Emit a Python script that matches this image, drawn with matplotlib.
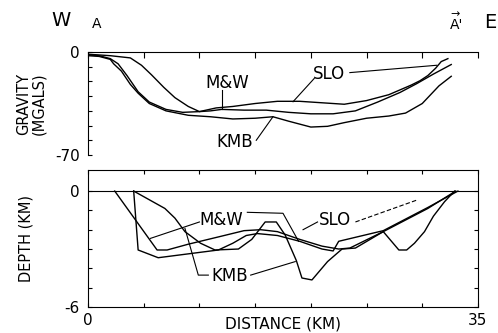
import matplotlib.pyplot as plt

plt.rcParams["font.family"] = ["DejaVu Sans"]

# gravity profiles, distance (km) vs anomaly (mGal)
slo_grav_x = [0, 1, 2, 2.7, 3.5, 4.5, 5.5, 7, 8.5, 10, 11.5, 13, 15, 17, 19, 21, 23, 25, 27, 29, 29.8, 30.5, 31.2, 31.7, 32.3]
slo_grav_y = [-2, -2.5, -4.5, -8, -16, -27, -34, -39, -41, -40.5, -38, -37, -35, -33.5, -33.5, -34.5, -35.5, -33, -29, -22.5, -19.5, -16, -11, -6.5, -4.5]

mw_grav_x = [0, 2, 3.8, 4.8, 5.7, 6.8, 7.8, 9, 10, 11, 12, 14, 16, 18, 20, 22, 24, 26, 28, 29.5, 31, 32.6]
mw_grav_y = [-1.5, -2.5, -4, -9, -15.5, -24, -31, -37, -40.5, -40, -39, -39.5, -39.5, -41, -42, -42, -40, -34, -27.5, -21.5, -15, -8.5]

kmb_grav_x = [0, 1, 2, 2.3, 3, 3.8, 4.5, 5.5, 7, 9, 11, 13, 15, 16.6, 18, 20, 21.5, 23, 25, 27, 28.5, 30, 31.5, 32.6]
kmb_grav_y = [-2.5, -3, -5, -8, -13, -22, -28, -35, -40, -43, -44, -45.5, -45, -44, -47, -51, -50.5, -48, -45, -43.5, -41.5, -35, -23, -16.5]

# basin depth models, distance (km) vs depth (km)
mw_depth_x = [2.4, 6.2, 7.1, 9, 11.8, 14, 15.5, 17, 19, 21, 22.5, 23.5, 26.5, 30.5, 33]
mw_depth_y = [0, -3.05, -3.05, -2.75, -2.36, -2.05, -2.0, -2.1, -2.5, -2.85, -3.0, -2.95, -2.1, -0.9, 0]

slo_depth_x = [4.1, 4.5, 6.3, 9, 11.7, 13, 14.2, 15.2, 17, 19, 21, 22, 22.5, 26.5, 30.5, 33.2]
slo_depth_y = [0, -3.05, -3.45, -3.25, -3.05, -2.7, -2.3, -2.2, -2.3, -2.6, -3.0, -3.1, -2.6, -2.05, -0.85, 0]

kmb_depth_x = [4.1, 6.9, 7.8, 8.7, 10.1, 11.4, 13.5, 14.7, 15.9, 16.9, 17.7, 18.7, 19.2, 20.1, 21.5, 22.8, 24, 26.5, 27.9, 28.6, 29.3, 30.2, 31, 32, 32.9]
kmb_depth_y = [0, -0.9, -1.4, -2.1, -2.7, -3.05, -3.0, -2.5, -1.6, -1.6, -2.28, -3.6, -4.5, -4.6, -3.65, -3.0, -2.95, -2.1, -3.05, -3.05, -2.7, -2.1, -1.3, -0.55, 0]

grav_ticks = [0, -10, -20, -30, -40, -50, -60, -70]
depth_ticks = [0, -1, -2, -3, -4, -5, -6]
dist_ticks = [0, 5, 10, 15, 20, 25, 30, 35]

fig = plt.figure(figsize=(4.98, 3.33), dpi=100)
ax1 = fig.add_axes([0.1767, 0.5345, 0.7831, 0.3093])
ax2 = fig.add_axes([0.1767, 0.0781, 0.7831, 0.4114])

lw = 1.0
for ax in (ax1, ax2):
    ax.set_xlim(0, 35)
    for s in ax.spines.values():
        s.set_linewidth(0.8)

# --- gravity panel
ax1.plot(slo_grav_x, slo_grav_y, color="black", lw=lw)
ax1.plot(mw_grav_x, mw_grav_y, color="black", lw=lw)
ax1.plot(kmb_grav_x, kmb_grav_y, color="black", lw=lw)
ax1.set_ylim(-70, 0)
ax1.spines["bottom"].set_visible(False)
ax1.spines["right"].set_visible(False)
ax1.set_yticks(grav_ticks)
ax1.set_yticklabels(["0"] + [""] * 6 + ["-70"], fontsize=11)
ax1.xaxis.tick_top()
ax1.set_xticks(dist_ticks)
ax1.set_xticklabels([])
ax1.tick_params(axis="x", direction="in", length=4, width=0.8)
ax1.tick_params(axis="y", direction="in", length=3, width=0.8, pad=6)

ax1.text(12.5, -21, "M&W", fontsize=12, ha="center", va="center")
ax1.plot([12, 12], [-26, -38.5], color="black", lw=0.8)
ax1.text(21.6, -15, "SLO", fontsize=12, ha="center", va="center")
ax1.plot([20.3, 18.4], [-18, -33.8], color="black", lw=0.8)
ax1.plot([23.5, 31.3], [-14, -9], color="black", lw=0.8)
ax1.text(13.2, -61, "KMB", fontsize=12, ha="center", va="center")
ax1.plot([15.1, 16.6], [-60, -44], color="black", lw=0.8)

ax1.text(-0.146, 0.5, "GRAVITY\n(MGALS)", transform=ax1.transAxes, rotation=90,
         ha="center", va="center", fontsize=10.5, linespacing=1.0)

# --- depth panel
ax2.plot(mw_depth_x, mw_depth_y, color="black", lw=lw)
ax2.plot(slo_depth_x, slo_depth_y, color="black", lw=lw)
ax2.plot(kmb_depth_x, kmb_depth_y, color="black", lw=lw)
ax2.axhline(0, color="black", lw=0.8)
ax2.set_ylim(-6, 1.09)
ax2.set_yticks(depth_ticks)
ax2.set_yticklabels(["0"] + [""] * 5 + ["-6"], fontsize=11)
ax2.set_xticks(dist_ticks)
ax2.set_xticklabels(["0"] + [""] * 6 + ["35"], fontsize=11)
ax2.tick_params(direction="in", length=3, width=0.8, top=True, right=True, pad=4)
ax2.tick_params(axis="y", pad=6)
ax2.set_xlabel("DISTANCE (KM)", fontsize=11, labelpad=-8)
ax2.set_ylabel("DEPTH (KM)", fontsize=10.5, labelpad=22)

ax2.text(12.0, -1.5, "M&W", fontsize=12, ha="center", va="center")
ax2.plot([10.0, 5.6], [-1.6, -2.45], color="black", lw=0.8)
ax2.plot([14.3, 17.5, 18.9], [-1.1, -1.15, -2.6], color="black", lw=0.8)
ax2.text(22.2, -1.5, "SLO", fontsize=12, ha="center", va="center")
ax2.plot([20.6, 19.3], [-1.6, -2.0], color="black", lw=0.8)
ax2.plot([24.0, 29.5], [-1.6, -0.47], color="black", lw=0.8, ls=(0, (4, 2)))
ax2.text(12.7, -4.4, "KMB", fontsize=12, ha="center", va="center")
ax2.plot([10.8, 9.9, 8.7], [-4.35, -4.35, -1.93], color="black", lw=0.8)
ax2.plot([14.6, 18.6], [-4.35, -3.65], color="black", lw=0.8)

# direction labels
fig.text(61 / 498, 1 - 20 / 333, "W", fontsize=14, ha="center", va="center")
fig.text(97 / 498, 1 - 24 / 333, "A", fontsize=10, ha="center", va="center")
fig.text(457 / 498, 1 - 25 / 333, "A'", fontsize=10, ha="center", va="center")
fig.text(455 / 498, 1 - 14 / 333, "\u2192", fontsize=8, ha="center", va="center")
fig.text(490 / 498, 1 - 22 / 333, "E", fontsize=14, ha="center", va="center")

fig.savefig("out.png", dpi=100)
